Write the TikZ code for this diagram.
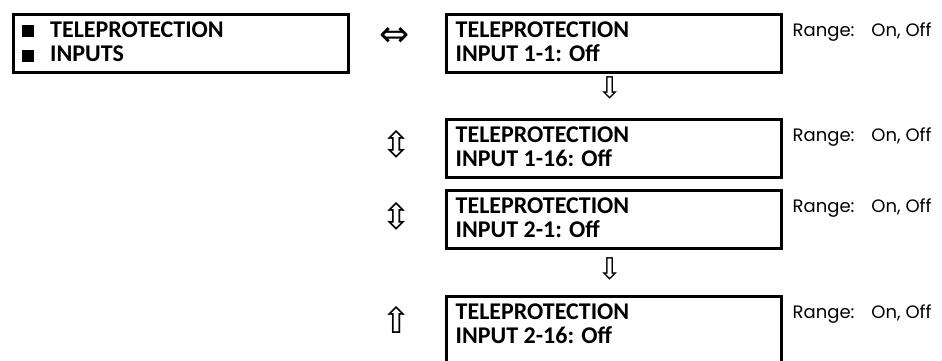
\documentclass[tikz,border=0pt]{standalone}
\usepackage{fontspec}
\setmainfont{Carlito}
\newfontfamily\rangefont{Poppins}
\newfontfamily\arrowfont{DejaVu Sans}
\usetikzlibrary{positioning}
\tikzset{
	menubox/.style  ={rectangle, draw=black, line width=3pt, minimum width=335pt, minimum height=58pt, inner sep=0pt, anchor=north west},
	boxtext/.style  ={anchor=north west, align=left, inner sep=0pt, font=\fontsize{24}{24.5}\selectfont\bfseries},
	rangetext/.style={anchor=base west, inner sep=0pt, font=\rangefont\fontsize{18}{22}\selectfont},
	navarrow/.style ={inner sep=0pt, font=\arrowfont\fontsize{36}{36}\selectfont},
	downarrow/.style={navarrow, font=\arrowfont\fontsize{30}{30}\selectfont},
}
\begin{document}
\begin{tikzpicture}[x=1pt, y=-1pt]
	\useasboundingbox (0,0) rectangle (942,360);
	\clip (0,0) rectangle (942,360);
	% menu heading
	\node[menubox] (head) at (11.5,12.5) {};
	\node[boxtext] (headtxt) at (22,21.5) {\rule{12pt}{12pt}\hspace{16pt}TELEPROTECTION\\\rule{12pt}{12pt}\hspace{16pt}INPUTS};
	% settings (the last box runs past the lower edge)
	\foreach \nm/\y/\h/\lbl in {in11/12.5/58/{1-1}, in116/117.5/58/{1-16}, in21/188.5/58/{2-1}, in216/294.5/90/{2-16}}{
		\node[menubox, minimum height=\h pt] (\nm) at (444.5,\y) {};
		\node[boxtext] (\nm txt) at ([shift={(11,9)}]\nm.north west) {TELEPROTECTION\\INPUT \lbl: Off};
		\node[rangetext] (\nm rng) at ([shift={(10,24)}]\nm.north east) {Range:\hspace{17pt}On, Off};
	}
	% navigation arrows
	\node[navarrow] (nav0) at (395,37) {⇔};
	\node[downarrow] (nav1) at (610,88) {⇩};
	\node[navarrow] (nav2) at (397,144) {⇳};
	\node[navarrow] (nav3) at (397,216) {⇳};
	\node[downarrow] (nav4) at (610,269) {⇩};
	\node[navarrow] (nav5) at (397,320) {⇧};
\end{tikzpicture}
\end{document}
